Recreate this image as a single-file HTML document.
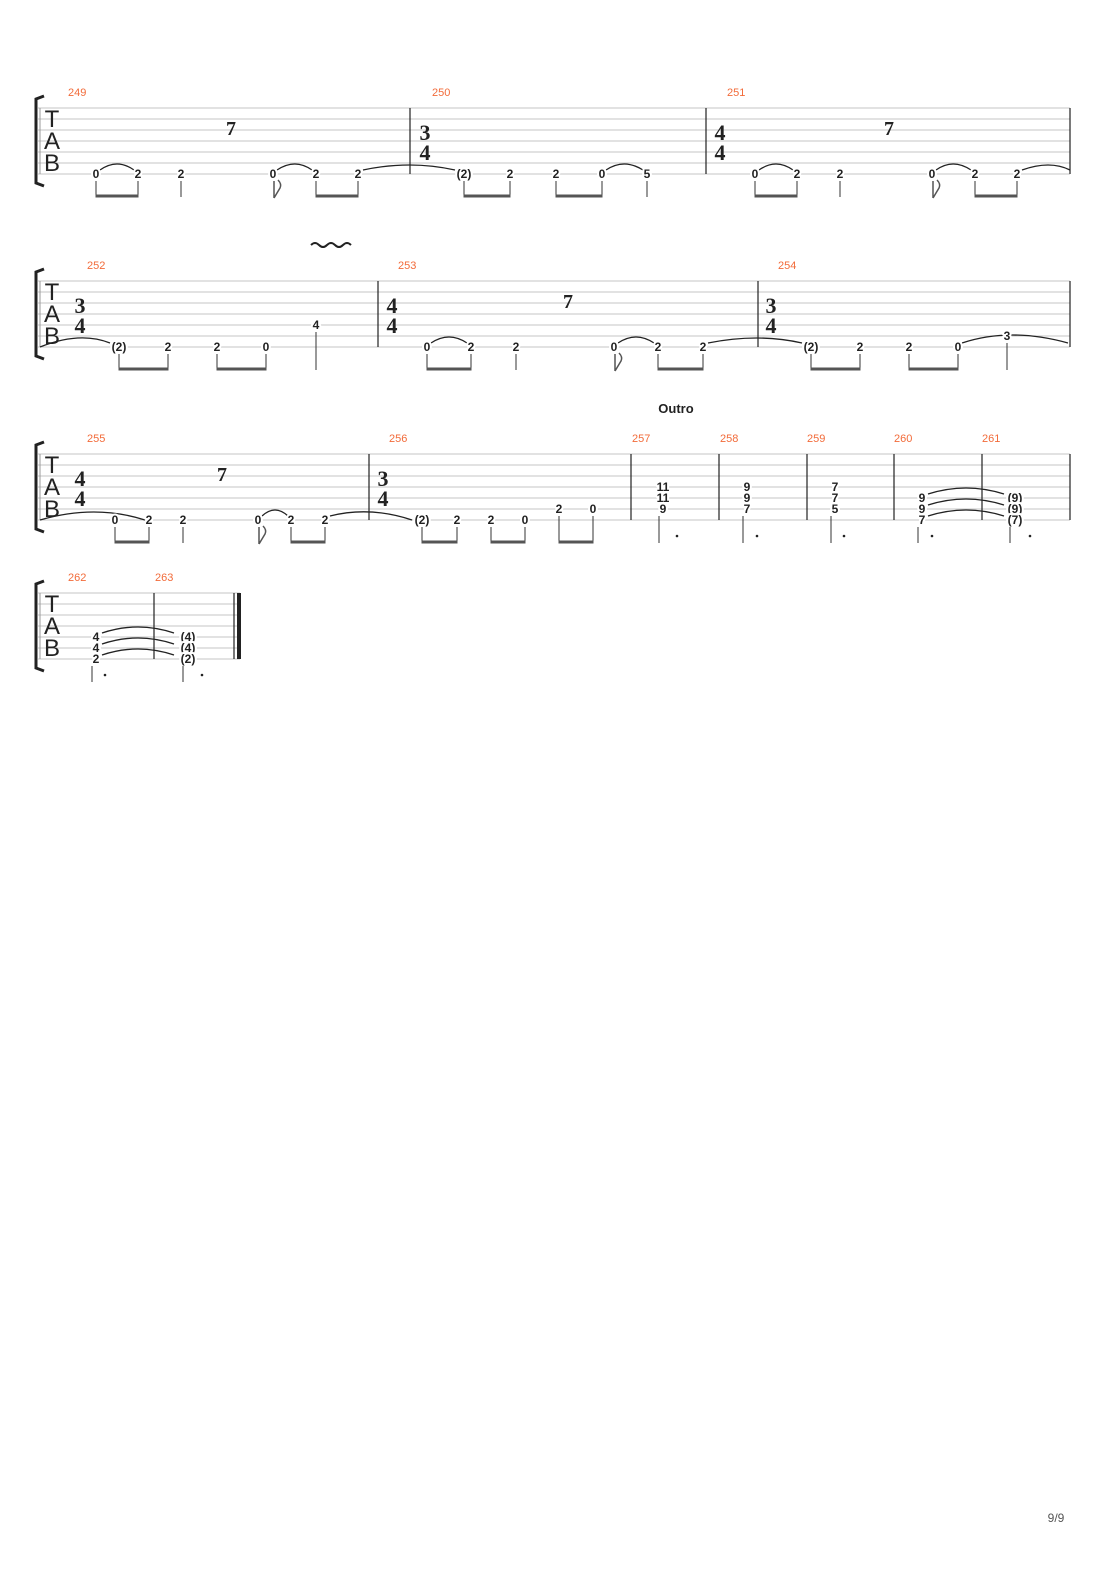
<!DOCTYPE html>
<html><head><meta charset="utf-8"><style>
body{margin:0;background:#fff}
svg{display:block}
.n{font:bold 12px "Liberation Sans",sans-serif;fill:#222;text-anchor:middle;paint-order:stroke;stroke:#fff;stroke-width:4px;stroke-linejoin:round}
.m{font:11px "Liberation Sans",sans-serif;fill:#f26b3a}
.ts{font:bold 22px "Liberation Serif",serif;fill:#222;text-anchor:middle}
.tab{font:24px "Liberation Sans",sans-serif;fill:#222;text-anchor:middle}
.r{font:bold 20px "Liberation Serif",serif;fill:#222;text-anchor:middle}
.st{stroke:#c4c4c4;stroke-width:1}
.bl{stroke:#222;stroke-width:1.2}
.sm{stroke:#333;stroke-width:1}
.bm{stroke:#555;stroke-width:3}
.tie{fill:none;stroke:#222;stroke-width:1.3}
</style></head><body>
<svg width="1110" height="1570" viewBox="0 0 1110 1570" xmlns="http://www.w3.org/2000/svg">
<defs>
<g id="lines7">
<line class="st" x1="38" y1="0" x2="1070" y2="0"/><line class="st" x1="38" y1="11" x2="1070" y2="11"/><line class="st" x1="38" y1="22" x2="1070" y2="22"/><line class="st" x1="38" y1="33" x2="1070" y2="33"/><line class="st" x1="38" y1="44" x2="1070" y2="44"/><line class="st" x1="38" y1="55" x2="1070" y2="55"/><line class="st" x1="38" y1="66" x2="1070" y2="66"/>
</g>
<g id="head">
<path d="M44,-12 L36,-9 L36,75 L44,78" fill="none" stroke="#222" stroke-width="3"/>
<line x1="40" y1="0" x2="40" y2="66" stroke="#999" stroke-width="1"/>
<text class="tab" x="52" y="19">T</text><text class="tab" x="52" y="41">A</text><text class="tab" x="52" y="63">B</text>
</g>
</defs>

<!-- System 1 -->
<g transform="translate(0,108)">
<use href="#lines7"/><use href="#head"/>
<line class="bl" x1="410" y1="0" x2="410" y2="66"/><line class="bl" x1="706" y1="0" x2="706" y2="66"/><line class="bl" x1="1070" y1="0" x2="1070" y2="66"/>
<text class="m" x="68" y="-12">249</text><text class="m" x="432" y="-12">250</text><text class="m" x="727" y="-12">251</text>
<text class="r" x="231" y="27">7</text><text class="r" x="889" y="27">7</text>
<text class="ts" x="425" y="32">3</text><text class="ts" x="425" y="52">4</text>
<text class="ts" x="720" y="32">4</text><text class="ts" x="720" y="52">4</text>
<path class="tie" d="M100,62 Q117,50 134,62"/><path class="tie" d="M277,62 Q295,50 312,62"/><path class="tie" d="M606,62 Q624,50 643,62"/>
<path class="tie" d="M759,62 Q776,50 793,62"/><path class="tie" d="M936,62 Q953,50 971,62"/>
<path class="tie" d="M363,62 Q410,52 455,62"/><path class="tie" d="M1022,62 Q1050,52 1070,62"/>
<text class="n" x="96" y="70">0</text><text class="n" x="138" y="70">2</text><text class="n" x="181" y="70">2</text><text class="n" x="273" y="70">0</text><text class="n" x="316" y="70">2</text><text class="n" x="358" y="70">2</text>
<text class="n" x="464" y="70">(2)</text><text class="n" x="510" y="70">2</text><text class="n" x="556" y="70">2</text><text class="n" x="602" y="70">0</text><text class="n" x="647" y="70">5</text>
<text class="n" x="755" y="70">0</text><text class="n" x="797" y="70">2</text><text class="n" x="840" y="70">2</text><text class="n" x="932" y="70">0</text><text class="n" x="975" y="70">2</text><text class="n" x="1017" y="70">2</text>
<g class="sm">
<line x1="96" y1="73" x2="96" y2="89"/><line x1="138" y1="73" x2="138" y2="89"/><line x1="181" y1="73" x2="181" y2="89"/>
<line x1="316" y1="73" x2="316" y2="89"/><line x1="358" y1="73" x2="358" y2="89"/>
<line x1="464" y1="73" x2="464" y2="89"/><line x1="510" y1="73" x2="510" y2="89"/><line x1="556" y1="73" x2="556" y2="89"/><line x1="602" y1="73" x2="602" y2="89"/><line x1="647" y1="73" x2="647" y2="89"/>
<line x1="755" y1="73" x2="755" y2="89"/><line x1="797" y1="73" x2="797" y2="89"/><line x1="840" y1="73" x2="840" y2="89"/>
<line x1="975" y1="73" x2="975" y2="89"/><line x1="1017" y1="73" x2="1017" y2="89"/>
</g>
<g class="bm"><line x1="95.5" y1="88" x2="138.5" y2="88"/><line x1="315.5" y1="88" x2="358.5" y2="88"/><line x1="463.5" y1="88" x2="510.5" y2="88"/><line x1="555.5" y1="88" x2="602.5" y2="88"/><line x1="754.5" y1="88" x2="797.5" y2="88"/><line x1="974.5" y1="88" x2="1017.5" y2="88"/></g>
<path d="M274,73 L274,90 M274,90 L280,80 Q282,76 278,72" fill="none" stroke="#555" stroke-width="1.5"/>
<path d="M933,73 L933,90 M933,90 L939,80 Q941,76 937,72" fill="none" stroke="#555" stroke-width="1.5"/>
</g>

<!-- System 2 -->
<g transform="translate(0,281)">
<use href="#lines7"/><use href="#head"/>
<line class="bl" x1="378" y1="0" x2="378" y2="66"/><line class="bl" x1="758" y1="0" x2="758" y2="66"/><line class="bl" x1="1070" y1="0" x2="1070" y2="66"/>
<text class="m" x="87" y="-12">252</text><text class="m" x="398" y="-12">253</text><text class="m" x="778" y="-12">254</text>
<path d="M311,-36 q4,-4 8,0 t8,0 t8,0 t8,0 t8,0" fill="none" stroke="#222" stroke-width="2"/>
<text class="r" x="568" y="27">7</text>
<text class="ts" x="80" y="32">3</text><text class="ts" x="80" y="52">4</text>
<text class="ts" x="392" y="32">4</text><text class="ts" x="392" y="52">4</text>
<text class="ts" x="771" y="32">3</text><text class="ts" x="771" y="52">4</text>
<path class="tie" d="M40,66 Q80,50 110,62"/><path class="tie" d="M431,62 Q449,50 467,62"/><path class="tie" d="M618,62 Q636,50 654,62"/>
<path class="tie" d="M708,62 Q758,52 802,62"/><path class="tie" d="M962,62 Q1010,46 1068,62"/>
<text class="n" x="119" y="70">(2)</text><text class="n" x="168" y="70">2</text><text class="n" x="217" y="70">2</text><text class="n" x="266" y="70">0</text><text class="n" x="316" y="48">4</text>
<text class="n" x="427" y="70">0</text><text class="n" x="471" y="70">2</text><text class="n" x="516" y="70">2</text><text class="n" x="614" y="70">0</text><text class="n" x="658" y="70">2</text><text class="n" x="703" y="70">2</text>
<text class="n" x="811" y="70">(2)</text><text class="n" x="860" y="70">2</text><text class="n" x="909" y="70">2</text><text class="n" x="958" y="70">0</text><text class="n" x="1007" y="59">3</text>
<g class="sm">
<line x1="119" y1="73" x2="119" y2="89"/><line x1="168" y1="73" x2="168" y2="89"/><line x1="217" y1="73" x2="217" y2="89"/><line x1="266" y1="73" x2="266" y2="89"/><line x1="316" y1="51" x2="316" y2="89"/>
<line x1="427" y1="73" x2="427" y2="89"/><line x1="471" y1="73" x2="471" y2="89"/><line x1="516" y1="73" x2="516" y2="89"/><line x1="658" y1="73" x2="658" y2="89"/><line x1="703" y1="73" x2="703" y2="89"/>
<line x1="811" y1="73" x2="811" y2="89"/><line x1="860" y1="73" x2="860" y2="89"/><line x1="909" y1="73" x2="909" y2="89"/><line x1="958" y1="73" x2="958" y2="89"/><line x1="1007" y1="62" x2="1007" y2="89"/>
</g>
<g class="bm"><line x1="118.5" y1="88" x2="168.5" y2="88"/><line x1="216.5" y1="88" x2="266.5" y2="88"/><line x1="426.5" y1="88" x2="471.5" y2="88"/><line x1="657.5" y1="88" x2="703.5" y2="88"/><line x1="810.5" y1="88" x2="860.5" y2="88"/><line x1="908.5" y1="88" x2="958.5" y2="88"/></g>
<path d="M615,73 L615,90 M615,90 L621,80 Q623,76 619,72" fill="none" stroke="#555" stroke-width="1.5"/>
</g>

<!-- System 3 -->
<text x="676" y="413" style="font:bold 13px 'Liberation Sans',sans-serif;fill:#222" text-anchor="middle">Outro</text>
<g transform="translate(0,454)">
<use href="#lines7"/><use href="#head"/>
<g class="bl"><line x1="369" y1="0" x2="369" y2="66"/><line x1="631" y1="0" x2="631" y2="66"/><line x1="719" y1="0" x2="719" y2="66"/><line x1="807" y1="0" x2="807" y2="66"/><line x1="894" y1="0" x2="894" y2="66"/><line x1="982" y1="0" x2="982" y2="66"/><line x1="1070" y1="0" x2="1070" y2="66"/></g>
<text class="m" x="87" y="-12">255</text><text class="m" x="389" y="-12">256</text><text class="m" x="632" y="-12">257</text><text class="m" x="720" y="-12">258</text><text class="m" x="807" y="-12">259</text><text class="m" x="894" y="-12">260</text><text class="m" x="982" y="-12">261</text>
<text class="r" x="222" y="27">7</text>
<text class="ts" x="80" y="32">4</text><text class="ts" x="80" y="52">4</text>
<text class="ts" x="383" y="32">3</text><text class="ts" x="383" y="52">4</text>
<path class="tie" d="M40,66 Q95,50 145,66"/><path class="tie" d="M262,62 Q275,50 288,62"/><path class="tie" d="M330,62 Q370,52 412,66"/>
<path class="tie" d="M928,40 Q966,28 1004,40"/><path class="tie" d="M928,51 Q966,39 1004,51"/><path class="tie" d="M928,62 Q966,50 1004,62"/>
<text class="n" x="115" y="70">0</text><text class="n" x="149" y="70">2</text><text class="n" x="183" y="70">2</text><text class="n" x="258" y="70">0</text><text class="n" x="291" y="70">2</text><text class="n" x="325" y="70">2</text>
<text class="n" x="422" y="70">(2)</text><text class="n" x="457" y="70">2</text><text class="n" x="491" y="70">2</text><text class="n" x="525" y="70">0</text><text class="n" x="559" y="59">2</text><text class="n" x="593" y="59">0</text>
<text class="n" x="663" y="37">11</text><text class="n" x="663" y="48">11</text><text class="n" x="663" y="59">9</text>
<text class="n" x="747" y="37">9</text><text class="n" x="747" y="48">9</text><text class="n" x="747" y="59">7</text>
<text class="n" x="835" y="37">7</text><text class="n" x="835" y="48">7</text><text class="n" x="835" y="59">5</text>
<text class="n" x="922" y="48">9</text><text class="n" x="922" y="59">9</text><text class="n" x="922" y="70">7</text>
<text class="n" x="1015" y="48">(9)</text><text class="n" x="1015" y="59">(9)</text><text class="n" x="1015" y="70">(7)</text>
<g class="sm">
<line x1="115" y1="73" x2="115" y2="89"/><line x1="149" y1="73" x2="149" y2="89"/><line x1="183" y1="73" x2="183" y2="89"/><line x1="291" y1="73" x2="291" y2="89"/><line x1="325" y1="73" x2="325" y2="89"/>
<line x1="422" y1="73" x2="422" y2="89"/><line x1="457" y1="73" x2="457" y2="89"/><line x1="491" y1="73" x2="491" y2="89"/><line x1="525" y1="73" x2="525" y2="89"/><line x1="559" y1="62" x2="559" y2="89"/><line x1="593" y1="62" x2="593" y2="89"/>
<line x1="659" y1="62" x2="659" y2="89"/><line x1="743" y1="62" x2="743" y2="89"/><line x1="831" y1="62" x2="831" y2="89"/><line x1="918" y1="73" x2="918" y2="89"/><line x1="1010" y1="73" x2="1010" y2="89"/>
</g>
<g class="bm"><line x1="114.5" y1="88" x2="149.5" y2="88"/><line x1="290.5" y1="88" x2="325.5" y2="88"/><line x1="421.5" y1="88" x2="457.5" y2="88"/><line x1="490.5" y1="88" x2="525.5" y2="88"/><line x1="558.5" y1="88" x2="593.5" y2="88"/></g>
<path d="M259,73 L259,90 M259,90 L265,80 Q267,76 263,72" fill="none" stroke="#555" stroke-width="1.5"/>
<g fill="#222"><circle cx="677" cy="82" r="1.3"/><circle cx="757" cy="82" r="1.3"/><circle cx="844" cy="82" r="1.3"/><circle cx="932" cy="82" r="1.3"/><circle cx="1030" cy="82" r="1.3"/></g>
</g>

<!-- System 4 -->
<g transform="translate(0,593)">
<g class="st"><line x1="38" y1="0" x2="240" y2="0"/><line x1="38" y1="11" x2="240" y2="11"/><line x1="38" y1="22" x2="240" y2="22"/><line x1="38" y1="33" x2="240" y2="33"/><line x1="38" y1="44" x2="240" y2="44"/><line x1="38" y1="55" x2="240" y2="55"/><line x1="38" y1="66" x2="240" y2="66"/></g>
<use href="#head"/>
<line class="bl" x1="154" y1="0" x2="154" y2="66"/><line class="bl" x1="234" y1="0" x2="234" y2="66"/>
<rect x="237" y="0" width="4" height="66" fill="#222"/>
<text class="m" x="68" y="-12">262</text><text class="m" x="155" y="-12">263</text>
<path class="tie" d="M102,40 Q138,28 174,40"/><path class="tie" d="M102,51 Q138,39 174,51"/><path class="tie" d="M102,62 Q138,50 174,62"/>
<text class="n" x="96" y="48">4</text><text class="n" x="96" y="59">4</text><text class="n" x="96" y="70">2</text>
<text class="n" x="188" y="48">(4)</text><text class="n" x="188" y="59">(4)</text><text class="n" x="188" y="70">(2)</text>
<g class="sm"><line x1="92" y1="73" x2="92" y2="89"/><line x1="183" y1="73" x2="183" y2="89"/></g>
<g fill="#222"><circle cx="105" cy="82" r="1.3"/><circle cx="202" cy="82" r="1.3"/></g>
</g>

<text x="1056" y="1522" style="font:12px 'Liberation Sans',sans-serif;fill:#555" text-anchor="middle">9/9</text>
</svg>
</body></html>
